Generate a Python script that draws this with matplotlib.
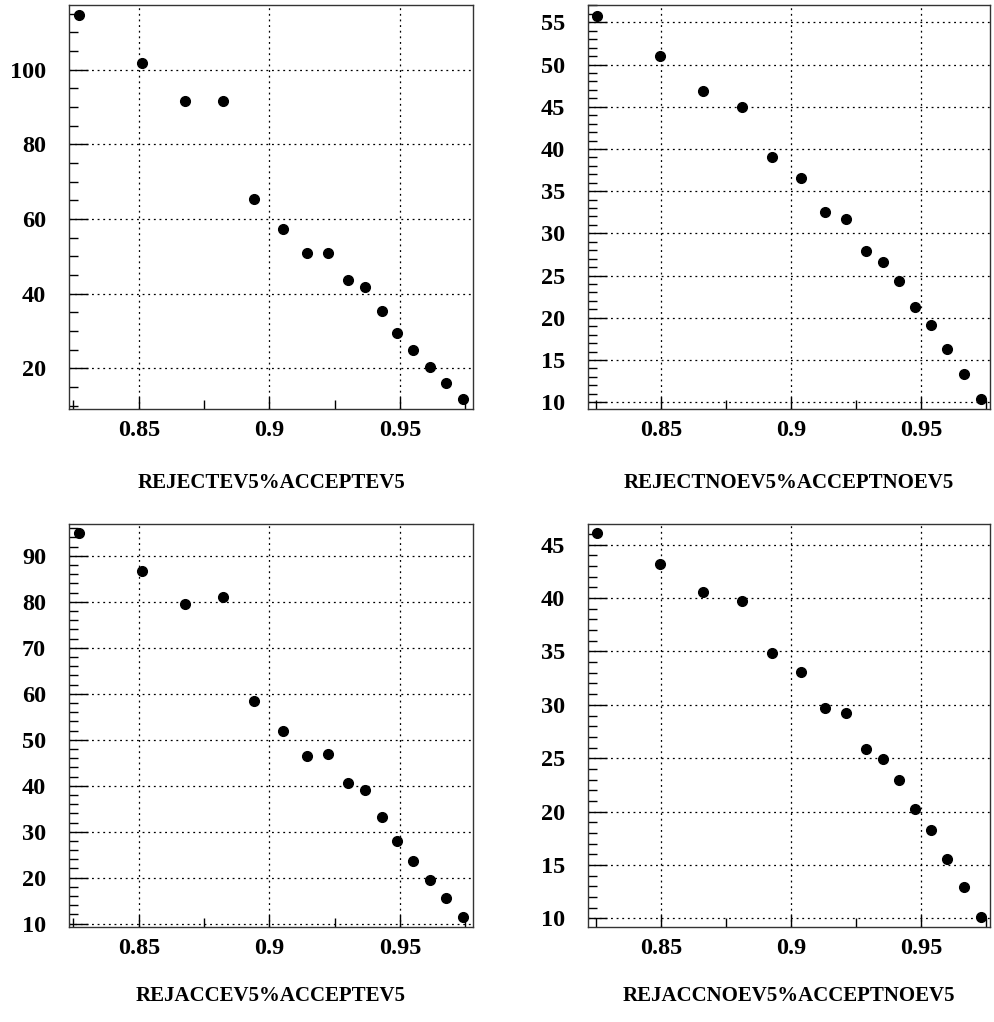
import numpy as np
import matplotlib
matplotlib.use("Agg")
import matplotlib.pyplot as plt
from matplotlib.ticker import MultipleLocator

plt.rcParams['font.family'] = ['Liberation Serif', 'DejaVu Serif']
plt.rcParams['font.weight'] = 'bold'

# x values (signal efficiency) for the EV5 and NOEV5 cuts
x_ev5 = [0.8272, 0.8513, 0.8678, 0.8821, 0.8940, 0.9051, 0.9145, 0.9226,
         0.9300, 0.9366, 0.9430, 0.9490, 0.9550, 0.9614, 0.9675, 0.9741]
x_noev5 = [0.8252, 0.8496, 0.8662, 0.8810, 0.8927, 0.9037, 0.9131, 0.9210,
           0.9286, 0.9353, 0.9414, 0.9476, 0.9536, 0.9600, 0.9664, 0.9730]

# rejection values
reject_ev5 = [114.6, 101.9, 91.7, 91.7, 65.4, 57.2, 50.8, 50.8,
              43.7, 41.7, 35.3, 29.5, 24.8, 20.3, 16.1, 11.8]
reject_noev5 = [55.8, 51.0, 46.9, 45.0, 39.1, 36.6, 32.5, 31.7,
                27.9, 26.6, 24.4, 21.3, 19.2, 16.3, 13.3, 10.4]
rejacc_ev5 = [94.9, 86.7, 79.6, 81.0, 58.5, 51.8, 46.5, 46.9,
              40.5, 39.0, 33.2, 27.9, 23.6, 19.6, 15.5, 11.5]
rejacc_noev5 = [46.1, 43.2, 40.6, 39.7, 34.9, 33.1, 29.7, 29.2,
                25.9, 24.9, 23.0, 20.2, 18.3, 15.6, 12.9, 10.1]

titles = ["REJECTEV5%ACCEPTEV5", "REJECTNOEV5%ACCEPTNOEV5",
          "REJACCEV5%ACCEPTEV5", "REJACCNOEV5%ACCEPTNOEV5"]

W, H = 994, 1022
fig = plt.figure(figsize=(W / 100, H / 100), dpi=100)

def px_axes(l, r, t, b):
    return fig.add_axes([l / W, 1 - b / H, (r - l) / W, (b - t) / H])

panels = [
    # frame px, xlim, ylim, major y, minor y, data, title offset
    ((69, 473, 5, 409), (0.8233, 0.9779), (9.1, 117.3), 20, 5, x_ev5, reject_ev5, 74),
    ((587.7, 990.3, 5, 409), (0.8217, 0.9765), (9.2, 57.05), 5, 1, x_noev5, reject_noev5, 74),
    ((69, 473, 524, 927), (0.8233, 0.9779), (9.28, 96.9), 10, 2, x_ev5, rejacc_ev5, 69),
    ((587.7, 990.3, 524, 927), (0.8217, 0.9765), (9.19, 46.94), 5, 1, x_noev5, rejacc_noev5, 69),
]

for i, (frame, xl, yl, ymaj, ymin, xs, ys, toff) in enumerate(panels):
    ax = px_axes(*frame)
    ax.plot(xs, ys, 'o', color='black', markersize=7, zorder=3)
    ax.set_xlim(*xl)
    ax.set_ylim(*yl)
    ax.xaxis.set_major_locator(MultipleLocator(0.05))
    ax.xaxis.set_minor_locator(MultipleLocator(0.025))
    ax.yaxis.set_major_locator(MultipleLocator(ymaj))
    ax.yaxis.set_minor_locator(MultipleLocator(ymin))
    ax.xaxis.set_major_formatter(plt.FuncFormatter(lambda v, p: ('%.3f' % v).rstrip('0')))
    ax.grid(True, which='major', color='black', linestyle=(0, (1.5, 3)), linewidth=0.9)
    ax.tick_params(axis='both', which='both', direction='in', top=False, right=False,
                   labelsize=17.5, width=1, color='black')
    ax.tick_params(axis='y', which='major', length=14, pad=16.5)
    ax.tick_params(axis='y', which='minor', length=6.5)
    ax.tick_params(axis='x', which='major', length=9, pad=8)
    ax.tick_params(axis='x', which='minor', length=6.5)
    for lab in ax.get_xticklabels() + ax.get_yticklabels():
        lab.set_fontweight('bold')
    for s in ax.spines.values():
        s.set_linewidth(1.0)
        s.set_color('#333333')
    cx = (frame[0] + frame[1]) / 2
    ty = frame[3] + toff
    fig.text(cx / W, 1 - ty / H, titles[i], ha='center', va='center',
             fontsize=15, fontweight='bold')

fig.savefig("out.png", dpi=100)
